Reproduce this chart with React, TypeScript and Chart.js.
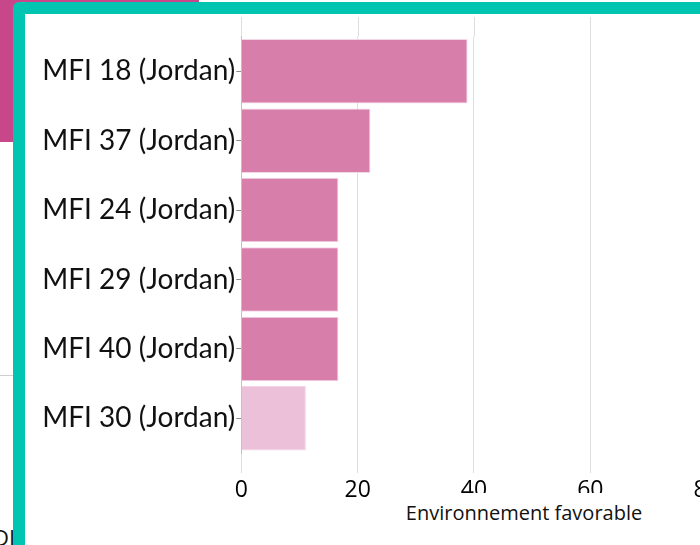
import React, { useEffect, useRef } from "react";
import { Chart, registerables } from "chart.js";

Chart.register(...registerables);

const categories = [
  "MFI 18 (Jordan)",
  "MFI 37 (Jordan)",
  "MFI 24 (Jordan)",
  "MFI 29 (Jordan)",
  "MFI 40 (Jordan)",
  "MFI 30 (Jordan)",
];
const values = [38.9, 22.2, 16.7, 16.7, 16.7, 11.1];
const barColors = ["#d77eab", "#d77eab", "#d77eab", "#d77eab", "#d77eab", "#edc0d9"];
const xMin = 0;
const xMax = 100;
const xStep = 20;
const axisTitle = "Environnement favorable";

const GRID = "rgba(0,0,0,0.13)";

const extendGrid = {
  id: "extendGrid",
  beforeDatasetsDraw(chart: any) {
    const { ctx, chartArea, scales } = chart;
    const x = scales.x;
    ctx.save();
    ctx.strokeStyle = GRID;
    ctx.lineWidth = 1;
    x.ticks.forEach((t: any) => {
      const px = Math.round(x.getPixelForValue(t.value)) + 0.5;
      ctx.beginPath();
      ctx.moveTo(px, chartArea.top - 19.6);
      ctx.lineTo(px, chartArea.top);
      ctx.stroke();
    });
    ctx.restore();
  },
};

function BarChart() {
  const ref = useRef<HTMLCanvasElement>(null);
  useEffect(() => {
    if (!ref.current) return;
    const chart = new Chart(ref.current, {
      type: "bar",
      data: {
        labels: categories,
        datasets: [
          {
            data: values,
            backgroundColor: barColors,
            borderColor: "rgba(244,214,230,1)",
            borderWidth: 1,
            barPercentage: 1,
            categoryPercentage: 0.93,
          },
        ],
      },
      plugins: [extendGrid],
      options: {
        indexAxis: "y",
        responsive: false,
        animation: false,
        layout: { padding: { top: 22.6, right: 12, bottom: 0, left: 0 } },
        plugins: { legend: { display: false }, tooltip: { enabled: false } },
        scales: {
          x: {
            min: xMin,
            max: xMax,
            ticks: {
              stepSize: xStep,
              color: "#000",
              padding: 4,
              font: { family: "'Open Sans', sans-serif", size: 23 },
            },
            grid: { color: GRID, tickColor: GRID, tickLength: 20 },
            border: { display: false },
            afterFit: (s: any) => {
              s.height = 86;
              s.paddingLeft = 0;
              s.paddingRight = 0;
            },
          },
          y: {
            grid: {
              display: true,
              drawOnChartArea: false,
              offset: false,
              tickLength: 5,
              tickColor: "rgba(0,0,0,0.45)",
            },
            border: { display: true, color: GRID },
            ticks: {
              color: "#111",
              padding: 1,
              font: { family: "Lato, sans-serif", size: 28 },
            },
            afterFit: (s: any) => {
              s.width = 216.3;
              s.paddingTop = 0;
              s.paddingBottom = 0;
            },
          },
        },
      },
    } as any);
    (document as any).fonts?.load?.("28px Lato").then(() => chart.update());
    return () => chart.destroy();
  }, []);
  return (
    <canvas
      ref={ref}
      width={810}
      height={525}
      style={{ position: "absolute", left: 0, top: 0, width: 810, height: 525 }}
    />
  );
}

export default function App() {
  return (
    <div
      style={{
        position: "fixed",
        left: 0,
        top: 0,
        width: 700,
        height: 545,
        overflow: "hidden",
        background: "#fff",
      }}
    >
      <div style={{ position: "absolute", left: 0, top: 0, width: 199, height: 142, background: "#c8478b" }} />
      <div style={{ position: "absolute", left: 0, top: 375, width: 20, height: 1, background: "#cfcfcf" }} />
      <div
        style={{
          position: "absolute",
          left: -7,
          top: 522,
          fontFamily: "'Open Sans', sans-serif",
          fontSize: 22,
          color: "#111",
          lineHeight: "30px",
        }}
      >
        DI
      </div>
      <div
        style={{
          position: "absolute",
          left: 13,
          top: 2,
          width: 780,
          height: 600,
          boxSizing: "border-box",
          border: "12px solid #00c5b1",
          borderRadius: 6,
          background: "#fff",
          overflow: "hidden",
        }}
      >
        <BarChart />
        <div
          style={{
            position: "absolute",
            left: 363,
            top: 479,
            width: 272,
            height: 40,
            background: "#fff",
            textAlign: "center",
            fontFamily: "'Open Sans', sans-serif",
            fontSize: 20,
            lineHeight: "40px",
            color: "#111",
          }}
        >
          {axisTitle}
        </div>
      </div>
    </div>
  );
}
